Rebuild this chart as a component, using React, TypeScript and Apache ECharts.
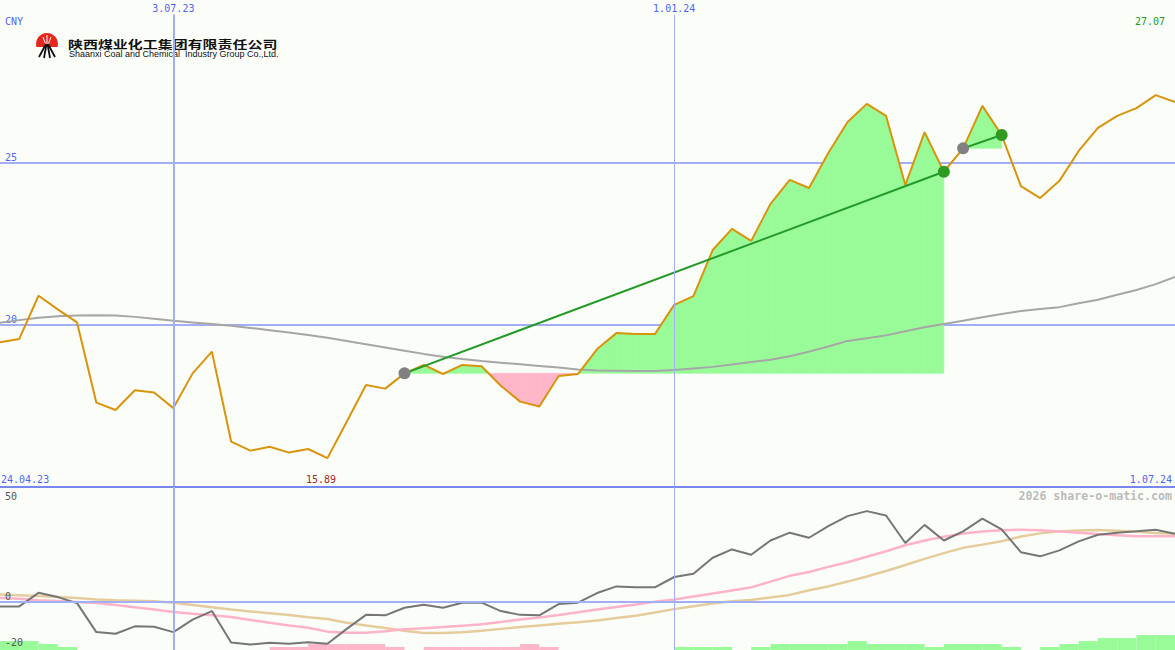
import React, { useEffect, useRef } from "react";
import * as echarts from "echarts";

// ---- data (weekly closes, 1.05.23 .. 1.07.24) ----
const price = [
  19.46, 19.56, 20.89, 20.47, 20.07, 17.6, 17.37, 17.98, 17.91, 17.43,
  18.5, 19.17, 16.4, 16.12, 16.24, 16.06, 16.17, 15.89, 17.01, 18.14,
  18.03, 18.5, 18.76, 18.48, 18.76, 18.72, 18.12, 17.63, 17.48, 18.42,
  18.48, 19.25, 19.74, 19.71, 19.71, 20.61, 20.88, 22.3, 22.95, 22.58,
  23.72, 24.46, 24.21, 25.29, 26.24, 26.8, 26.43, 24.3, 25.93, 24.71,
  25.43, 26.74, 25.84, 24.27, 23.9, 24.43, 25.35, 26.06, 26.43, 26.67,
  27.07, 26.86,
];
const movingAvg = [
  20.06, 20.14, 20.21, 20.26, 20.28, 20.29, 20.28, 20.24, 20.18, 20.12,
  20.07, 20.02, 19.97, 19.9, 19.83, 19.76, 19.68, 19.6, 19.5, 19.4,
  19.3, 19.2, 19.1, 19.01, 18.94, 18.88, 18.83, 18.78, 18.73, 18.68,
  18.62, 18.59, 18.58, 18.57, 18.57, 18.6, 18.65, 18.7, 18.77, 18.85,
  18.92, 19.03, 19.17, 19.33, 19.5, 19.58, 19.67, 19.8, 19.92, 20.02,
  20.12, 20.23, 20.33, 20.42, 20.48, 20.54, 20.66, 20.77, 20.92, 21.07,
  21.25, 21.47,
];
const oscillator = [
  -2.0, -2.0, 3.9, 2.05, -0.57, -13.2, -13.9, -10.7, -10.9, -13.2,
  -7.8, -4.05, -17.7, -18.6, -17.8, -18.3, -17.6, -18.3, -11.8, -5.7,
  -5.9, -2.6, -1.3, -2.6, -0.4, -0.4, -4.05, -5.7, -5.9, -1.0,
  -0.4, 3.8, 6.7, 6.3, 6.3, 10.8, 12.2, 19.2, 22.8, 20.5,
  26.7, 30.1, 27.9, 33.0, 37.3, 39.5, 37.6, 25.6, 33.5, 26.7,
  30.7, 36.2, 31.5, 21.6, 19.8, 22.4, 26.3, 29.2, 30.1, 30.7,
  31.4, 29.6,
];
const signalPink = [
  1.7, 1.3, 0.7, 0.3, -0.1, -0.5, -1.4, -2.4, -3.4, -4.4,
  -5.2, -5.9, -6.6, -7.9, -9.1, -10.3, -11.3, -13.0, -13.5, -13.5,
  -12.8, -12.0, -11.5, -11.0, -10.4, -9.8, -8.8, -7.7, -6.8, -5.8,
  -4.6, -3.4, -2.3, -1.2, 0.0, 1.0, 2.3, 3.6, 4.9, 6.3,
  8.8, 11.3, 13.0, 15.2, 17.2, 19.6, 22.0, 24.6, 26.7, 28.3,
  29.7, 30.6, 31.2, 31.4, 31.2, 30.6, 30.1, 29.5, 29.0, 28.6,
  28.5, 28.5,
];
const signalTan = [
  3.2, 2.9, 2.5, 2.1, 1.6, 1.0, 0.7, 0.5, 0.2, -0.4,
  -1.4, -2.4, -3.4, -4.2, -5.0, -5.8, -6.7, -7.5, -9.1, -10.3,
  -11.4, -12.6, -13.6, -13.6, -13.3, -12.6, -11.8, -11.0, -10.3, -9.6,
  -8.9, -8.1, -7.1, -6.1, -4.7, -3.2, -1.9, -0.7, 0.2, 0.8,
  1.9, 3.0, 5.0, 6.7, 8.8, 11.0, 13.4, 16.0, 18.7, 21.2,
  23.5, 24.9, 26.4, 28.4, 29.8, 30.7, 31.1, 31.3, 30.9, 30.5,
  30.0, 29.6,
];
// histogram between consecutive weeks (61 values), + green / - pink
const histogram = [
  3.9, 3.9, 2.6, 1.3, 0, 0, 0, 0, 0, 0,
  0, 0, 0, 0, -1.3, -1.3, -2.6, -2.6, -2.6, -2.6,
  -1.3, 0, -1.3, -1.3, -1.3, -1.3, -1.3, -2.6, -1.3, 0,
  0, 0, 0, 0, 0, 1.3, 1.3, 1.3, 0, 1.3,
  2.6, 2.6, 2.6, 2.6, 3.9, 2.6, 2.6, 2.6, 1.3, 2.6,
  2.6, 2.6, 1.3, 0, 1.3, 2.6, 3.9, 5.2, 5.2, 6.5,
  6.5,
];
const dateTickIdx = [9, 35];
const dateTickLabels = ["3.07.23", "1.01.24"];
const trendSegments = [
  [21, 49],
  [50, 52],
];
const lowerTickValues = [-20, 0];
const lowerTopLabel = "50";
const startDateLabel = "24.04.23";
const endDateLabel = "1.07.24";
const minLabel = "15.89";
const maxLabel = "27.07";
const currency = "CNY";

// ---- styles ----
const MONO = "DejaVu Sans Mono";
const BLUE = "#5264F2";
const GRID = "#A3AFF4";
const SEP = "#7787EE";
const GREEN_FILL = "#98FB98";
const PINK_FILL = "#FFB6C8";
const ORANGE = "#D8940C";
const MAIN_MIN = 15;
const MAIN_MAX = 30;
const VLINE_TOP = 29.55; // vertical grid lines start just below the date labels
const LOW_MIN = -21;
const LOW_MAX = 50;
const X_MAX = price.length - 1;

function buildOption(): any {
  const pairs = (arr: number[]) => arr.map((v, i) => [i, v]);

  const fillData: number[][] = [];
  trendSegments.forEach(([s, e]) => {
    const L = price[s];
    for (let i = s; i < e; i++) fillData.push([i, price[i], i + 1, price[i + 1], L]);
  });

  const histData = histogram
    .map((v, i) => [i, v])
    .filter((d) => d[1] !== 0);

  const trendSeries = trendSegments.map(([s, e]) => ({
    type: "line",
    xAxisIndex: 0,
    yAxisIndex: 0,
    data: [
      [s, price[s]],
      [e, price[e]],
    ],
    symbol: "none",
    silent: true,
    lineStyle: { color: "#239A28", width: 2 },
    z: 4,
  }));

  const txt = (text: string, x: number, y: number, fill: string, align: string, extra: any = {}) => ({
    type: "text",
    x,
    y,
    silent: true,
    z: 100,
    style: {
      text,
      fill,
      font: `10px '${MONO}'`,
      align,
      verticalAlign: "middle",
      ...extra,
    },
  });

  const vline = (x: number, w: number) => [
    { coord: [x, VLINE_TOP], lineStyle: { color: GRID, width: w, type: "solid" } },
    { coord: [x, MAIN_MIN] },
  ];

  return {
    animation: false,
    backgroundColor: "#FBFEF8",
    grid: [
      { left: 0, right: 0, top: 0, height: 487 },
      { left: 0, right: 0, top: 487, height: 163 },
    ],
    xAxis: [
      {
        gridIndex: 0,
        type: "value",
        min: 0,
        max: X_MAX,
        position: "top",
        axisLine: { show: false },
        axisTick: { show: false },
        splitLine: { show: false },
        axisLabel: {
          inside: true,
          customValues: dateTickIdx,
          formatter: (v: number) => dateTickLabels[dateTickIdx.indexOf(v)] ?? "",
          color: BLUE,
          fontFamily: MONO,
          fontSize: 10,
          margin: 3,
        },
      },
      { gridIndex: 1, type: "value", min: 0, max: X_MAX, show: false },
    ],
    yAxis: [
      {
        gridIndex: 0,
        type: "value",
        min: MAIN_MIN,
        max: MAIN_MAX,
        interval: 5,
        axisLine: { show: false },
        axisTick: { show: false },
        splitLine: {
          show: true,
          showMinLine: false,
          showMaxLine: false,
          lineStyle: { color: GRID, width: 2 },
        },
        axisLabel: {
          inside: true,
          showMinLabel: false,
          showMaxLabel: false,
          color: BLUE,
          fontFamily: MONO,
          fontSize: 10,
          margin: 5,
          verticalAlign: "bottom",
        },
      },
      {
        gridIndex: 1,
        type: "value",
        min: LOW_MIN,
        max: LOW_MAX,
        z: 20,
        axisLine: { show: false },
        axisTick: { show: false },
        splitLine: { show: false },
        axisLabel: {
          inside: true,
          customValues: lowerTickValues,
          color: "#555555",
          fontFamily: MONO,
          fontSize: 10,
          margin: 5,
          verticalAlign: "bottom",
        },
      },
    ],
    series: [
      {
        type: "custom",
        xAxisIndex: 0,
        yAxisIndex: 0,
        silent: true,
        z: 1,
        data: fillData,
        renderItem: (_p: any, api: any) => {
          const x0 = api.value(0),
            y0 = api.value(1),
            x1 = api.value(2),
            y1 = api.value(3),
            L = api.value(4);
          const c = (x: number, y: number) => api.coord([x, y]);
          const polys: [number[][], boolean][] = [];
          if ((y0 - L) * (y1 - L) >= 0) {
            polys.push([[c(x0, L), c(x0, y0), c(x1, y1), c(x1, L)], y0 + y1 >= 2 * L]);
          } else {
            const t = (y0 - L) / (y0 - y1);
            const xc = x0 + t * (x1 - x0);
            polys.push([[c(x0, L), c(x0, y0), c(xc, L)], y0 > L]);
            polys.push([[c(xc, L), c(x1, y1), c(x1, L)], y1 > L]);
          }
          return {
            type: "group",
            children: polys.map(([pts, up]) => ({
              type: "polygon",
              shape: { points: pts },
              style: { fill: up ? GREEN_FILL : PINK_FILL, stroke: up ? GREEN_FILL : PINK_FILL, lineWidth: 0.6 },
            })),
          };
        },
      },
      {
        type: "line",
        xAxisIndex: 0,
        yAxisIndex: 0,
        data: pairs(movingAvg),
        symbol: "none",
        silent: true,
        lineStyle: { color: "#A6A6A6", width: 2 },
        z: 2,
        markLine: {
          silent: true,
          symbol: "none",
          label: { show: false },
          data: [
            vline(dateTickIdx[0], 2),
            vline(dateTickIdx[1], 1),
            { yAxis: MAIN_MIN, lineStyle: { color: SEP, width: 2, type: "solid" } },
          ],
        },
      },
      {
        type: "line",
        xAxisIndex: 0,
        yAxisIndex: 0,
        data: pairs(price),
        symbol: "none",
        silent: true,
        lineStyle: { color: ORANGE, width: 2 },
        z: 3,
      },
      ...trendSeries,
      {
        type: "scatter",
        xAxisIndex: 0,
        yAxisIndex: 0,
        data: trendSegments.map(([s]) => [s, price[s]]),
        symbolSize: 12,
        silent: true,
        itemStyle: { color: "#808080", opacity: 1 },
        z: 5,
      },
      {
        type: "scatter",
        xAxisIndex: 0,
        yAxisIndex: 0,
        data: trendSegments.map(([, e]) => [e, price[e]]),
        symbolSize: 12,
        silent: true,
        itemStyle: { color: "#2F9A22", opacity: 1 },
        z: 5,
      },
      // lower panel
      {
        type: "custom",
        xAxisIndex: 1,
        yAxisIndex: 1,
        silent: true,
        z: 1,
        data: histData,
        renderItem: (_p: any, api: any) => {
          const i = api.value(0),
            v = api.value(1);
          const p0 = api.coord([i, LOW_MIN]);
          const p1 = api.coord([i + 1, LOW_MIN + Math.abs(v)]);
          return {
            type: "rect",
            shape: { x: p0[0], y: p1[1], width: p1[0] - p0[0], height: p0[1] - p1[1] },
            style: { fill: v > 0 ? GREEN_FILL : PINK_FILL },
          };
        },
      },
      {
        type: "line",
        xAxisIndex: 1,
        yAxisIndex: 1,
        data: pairs(signalTan),
        symbol: "none",
        silent: true,
        lineStyle: { color: "#E4CC9C", width: 2.5 },
        z: 2,
        markLine: {
          silent: true,
          symbol: "none",
          label: { show: false },
          data: [
            { xAxis: dateTickIdx[0], lineStyle: { color: GRID, width: 2, type: "solid" } },
            { xAxis: dateTickIdx[1], lineStyle: { color: GRID, width: 1, type: "solid" } },
            { yAxis: 0, lineStyle: { color: GRID, width: 2, type: "solid" } },
          ],
        },
      },
      {
        type: "line",
        xAxisIndex: 1,
        yAxisIndex: 1,
        data: pairs(signalPink),
        symbol: "none",
        silent: true,
        lineStyle: { color: "#FFB3C8", width: 2.5 },
        z: 3,
      },
      {
        type: "line",
        xAxisIndex: 1,
        yAxisIndex: 1,
        data: pairs(oscillator),
        symbol: "none",
        silent: true,
        lineStyle: { color: "#767676", width: 2 },
        z: 4,
      },
    ],
    graphic: [
      txt(currency, 5, 21, BLUE, "left"),
      txt(maxLabel, 1165, 21, "#249A28", "right"),
      txt(startDateLabel, 1, 479, BLUE, "left"),
      txt(minLabel, 321, 479, "#A02828", "center"),
      txt(endDateLabel, 1172, 479, BLUE, "right"),
      txt(lowerTopLabel, 5, 496, "#555555", "left"),
      txt("2026 share-o-matic.com", 1172, 496, "#BBBBBB", "right", {
        font: `bold 11.6px '${MONO}'`,
      }),
      // logo
      {
        type: "group",
        silent: true,
        z: 100,
        children: [
          { type: "circle", shape: { cx: 47, cy: 44, r: 11 }, style: { fill: "#E4261C" } },
          { type: "line", shape: { x1: 47, y1: 35, x2: 47, y2: 45 }, style: { stroke: "#FFFFFF", lineWidth: 1 } },
          { type: "line", shape: { x1: 43, y1: 37, x2: 46, y2: 45 }, style: { stroke: "#FFFFFF", lineWidth: 1 } },
          { type: "line", shape: { x1: 51, y1: 37, x2: 48, y2: 45 }, style: { stroke: "#FFFFFF", lineWidth: 1 } },
          {
            type: "polygon",
            shape: { points: [[35, 47], [59, 47], [57, 52], [52, 56], [47, 58], [42, 56], [37, 52]] },
            style: { fill: "#FFFFFF" },
          },
          { type: "line", shape: { x1: 46, y1: 44, x2: 39, y2: 57 }, style: { stroke: "#111111", lineWidth: 1.8 } },
          { type: "line", shape: { x1: 46.5, y1: 44, x2: 44, y2: 58 }, style: { stroke: "#111111", lineWidth: 1.8 } },
          { type: "line", shape: { x1: 47.5, y1: 44, x2: 50, y2: 58 }, style: { stroke: "#111111", lineWidth: 1.8 } },
          { type: "line", shape: { x1: 48, y1: 44, x2: 55, y2: 57 }, style: { stroke: "#111111", lineWidth: 1.8 } },
          {
            type: "text",
            x: 68,
            y: 44,
            scaleX: 1.36,
            style: {
              text: "陕西煤业化工集团有限责任公司",
              font: "bold 11px 'Noto Sans CJK SC'",
              fill: "#111111",
              align: "left",
              verticalAlign: "middle",
            },
          },
          {
            type: "text",
            x: 69,
            y: 54,
            style: {
              text: "Shaanxi Coal and Chemical  Industry Group Co.,Ltd.",
              font: "9px 'Liberation Sans'",
              fill: "#111111",
              align: "left",
              verticalAlign: "middle",
            },
          },
        ],
      },
    ],
  };
}

export default function App() {
  const ref = useRef<HTMLDivElement>(null);
  useEffect(() => {
    document.body.style.margin = "0";
    const chart = echarts.init(ref.current as HTMLDivElement, null, { renderer: "svg" });
    chart.setOption(buildOption());
    return () => chart.dispose();
  }, []);
  return (
    <div
      ref={ref}
      style={{ width: 1175, height: 650, position: "absolute", left: 0, top: 0 }}
    />
  );
}
